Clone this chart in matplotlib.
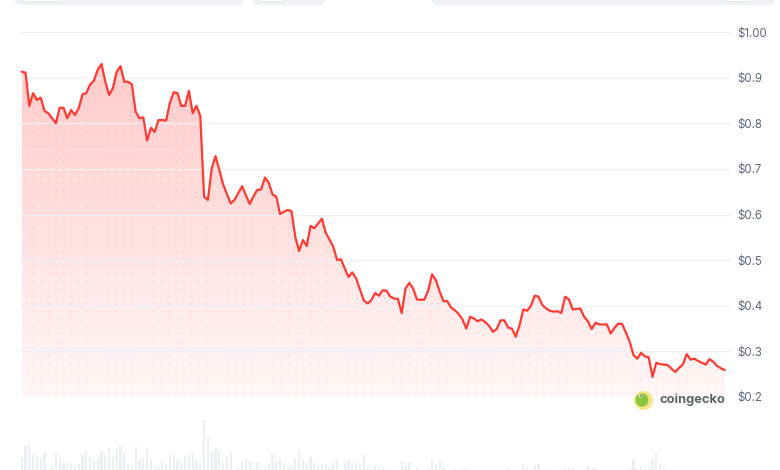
import numpy as np
import matplotlib
matplotlib.use("Agg")
import matplotlib.pyplot as plt
from matplotlib.patches import FancyBboxPatch, Circle, Ellipse, Polygon

# ---------------- data ----------------
price = [
    0.913, 0.911, 0.838, 0.866, 0.851, 0.856, 0.827, 0.822, 0.811, 0.800,
    0.834, 0.834, 0.811, 0.829, 0.818, 0.833, 0.863, 0.866, 0.885, 0.893,
    0.917, 0.930, 0.891, 0.862, 0.877, 0.913, 0.925, 0.891, 0.891, 0.885,
    0.825, 0.811, 0.813, 0.762, 0.790, 0.781, 0.807, 0.807, 0.806, 0.845,
    0.868, 0.866, 0.838, 0.838, 0.871, 0.822, 0.838, 0.816, 0.639, 0.632,
    0.701, 0.728, 0.698, 0.666, 0.645, 0.624, 0.632, 0.647, 0.662, 0.642,
    0.623, 0.640, 0.654, 0.655, 0.681, 0.670, 0.644, 0.639, 0.601, 0.606,
    0.610, 0.607, 0.551, 0.520, 0.544, 0.531, 0.575, 0.570, 0.580, 0.591,
    0.560, 0.545, 0.529, 0.500, 0.502, 0.482, 0.463, 0.473, 0.460, 0.436,
    0.412, 0.405, 0.412, 0.428, 0.422, 0.434, 0.433, 0.420, 0.416, 0.415,
    0.384, 0.438, 0.450, 0.438, 0.414, 0.413, 0.414, 0.434, 0.469, 0.456,
    0.431, 0.410, 0.410, 0.396, 0.390, 0.382, 0.370, 0.350, 0.376, 0.372,
    0.366, 0.370, 0.364, 0.356, 0.343, 0.349, 0.368, 0.368, 0.352, 0.350,
    0.332, 0.357, 0.392, 0.389, 0.400, 0.422, 0.420, 0.402, 0.394, 0.389,
    0.387, 0.388, 0.384, 0.420, 0.414, 0.392, 0.393, 0.394, 0.376, 0.366,
    0.349, 0.363, 0.359, 0.359, 0.359, 0.339, 0.352, 0.361, 0.360, 0.341,
    0.321, 0.292, 0.284, 0.297, 0.289, 0.287, 0.244, 0.275, 0.272, 0.271,
    0.270, 0.262, 0.255, 0.264, 0.271, 0.294, 0.282, 0.284, 0.279, 0.275,
    0.271, 0.283, 0.277, 0.268, 0.263, 0.259,
]

volume = [
    13, 24, 26, 16, 13, 12, 17, 1, 5, 17,
    12, 7, 7, 7, 4, 6, 15, 19, 13, 9,
    12, 19, 16, 22, 13, 22, 24, 17, 7, 4,
    23, 11, 11, 22, 11, 3, 2, 10, 6, 15,
    16, 10, 8, 14, 16, 17, 9, 7, 50, 33,
    18, 21, 20, 7, 13, 18, 0, 3, 9, 11,
    9, 2, 7, 2, 2, 7, 16, 10, 12, 7,
    2, 2, 12, 19, 10, 7, 13, 7, 4, 6,
    6, 2, 8, 11, 1, 8, 10, 9, 8, 7,
    15, 2, 2, 5, 3, 2, 1, 0, 0, 0,
    9, 3, 7, 0, 2, 0, 0, 2, 11, 6,
    9, 2, 0, 0, 1, 0, 1, 2, 0, 0,
    0, 0, 0, 0, 0, 0, 0, 0, 2, 0,
    0, 0, 5, 2, 0, 5, 6, 0, 1, 0,
    0, 0, 0, 3, 2, 2, 0, 0, 0, 5,
    2, 2, 0, 0, 0, 0, 0, 0, 0, 0,
    2, 11, 2, 4, 2, 2, 11, 16, 7, 3,
]

price_ticks = [0.2, 0.3, 0.4, 0.5, 0.6, 0.7, 0.8, 0.9, 1.0]
tick_labels = ["$0.2", "$0.3", "$0.4", "$0.5", "$0.6", "$0.7", "$0.8", "$0.9", "$1.00"]
brand = "coingecko"

# ---------------- layout ----------------
W, H = 780, 470
fig = plt.figure(figsize=(W / 100, H / 100), dpi=100)
fig.patch.set_facecolor("white")

step_px = 3.8      # pixel distance between samples
first_px = 21.7    # pixel x of first sample
left_px, right_px = 20, 730
xlim = ((left_px - first_px) / step_px, (right_px - first_px) / step_px)

n = len(price)
x = np.arange(n)

ax = fig.add_axes([left_px / W, (H - 397) / H, (right_px - left_px) / W, 365 / H])
ax.set_facecolor("none")

# fill with gradient
verts = [(x[0], 0.2)] + list(zip(x, price)) + [(x[-1], 0.2)]
poly = Polygon(verts, closed=True, facecolor="none", edgecolor="none")
ax.add_patch(poly)
rows = 256
alpha = np.linspace(0.24, 0.035, rows)
rgba = np.zeros((rows, 1, 4))
rgba[..., 0] = 1.0
rgba[..., 1] = 0.15
rgba[..., 2] = 0.15
rgba[:, 0, 3] = alpha
im = ax.imshow(rgba, extent=[x[0], x[-1], 0.2, max(price)], aspect="auto",
               origin="upper", zorder=1, interpolation="bilinear")
im.set_clip_path(poly)

# dotted texture inside the fill
dx = 7.5 / step_px
dy = 7.5 * 0.8 / 365
gx, gy = np.meshgrid(np.arange(x[0] + 1, x[-1], dx), np.arange(0.2 + dy * 0.5, 1.0, dy))
dots = ax.scatter(gx.ravel(), gy.ravel(), s=1.3, color="#ff3b30", alpha=0.10,
                  linewidths=0, zorder=2)
dots.set_clip_path(poly)

# price line
ax.plot(x, price, color="#ff3a33", lw=1.6, solid_joinstyle="round",
        solid_capstyle="round", zorder=3)

ax.set_xlim(*xlim)
ax.set_ylim(0.2, 1.0)
ax.set_yticks(price_ticks)
ax.set_yticklabels(tick_labels)
ax.yaxis.tick_right()
ax.tick_params(axis="y", length=0, pad=5, labelcolor="#5b6a80", labelsize=8.3)
for lab in ax.get_yticklabels():
    lab.set_family(["Inter", "DejaVu Sans"])
ax.set_xticks([])
ax.grid(axis="y", color="#eef0f3", lw=1.0, zorder=0)
for s in ax.spines.values():
    s.set_visible(False)

# volume bars
vax = fig.add_axes([left_px / W, 0, (right_px - left_px) / W, 50 / H])
vax.set_facecolor("none")
vax.bar(np.arange(len(volume)), volume, width=0.55, color="#eceff3", zorder=1)
vax.set_xlim(*xlim)
vax.set_ylim(0, max(volume))
vax.axis("off")

# logo + brand
def fx(px):
    return px / W

def fy(py):
    return (H - py) / H

logo_ax = fig.add_axes([0, 0, 1, 1], facecolor="none")
logo_ax.set_xlim(0, W)
logo_ax.set_ylim(H, 0)
logo_ax.axis("off")
logo_ax.add_patch(Circle((643.5, 400.5), 9.5, facecolor="#f7e58a", edgecolor="none"))
logo_ax.add_patch(Ellipse((642.0, 400.0), 13, 13.5, facecolor="#8cc63f", edgecolor="none"))
logo_ax.add_patch(Circle((640.5, 396.0), 1.6, facecolor="white", edgecolor="none"))
logo_ax.add_patch(Circle((640.7, 396.0), 0.8, facecolor="#4a4a4a", edgecolor="none"))
logo_ax.text(660, 400, brand, fontsize=9.3, fontweight="bold", color="#5f6368",
             va="center", ha="left", family=["Inter", "DejaVu Sans"])

# top UI fragments
for (x0, x1) in [(15, 243), (253, 325), (432, 775)]:
    logo_ax.add_patch(FancyBboxPatch((x0, -12), x1 - x0, 17,
                                     boxstyle="round,pad=0,rounding_size=6",
                                     facecolor="#eff2f5", edgecolor="none"))
for (x0, x1) in [(20, 63), (258, 285), (725, 750)]:
    logo_ax.add_patch(FancyBboxPatch((x0, -12), x1 - x0, 13.5,
                                     boxstyle="round,pad=0,rounding_size=4",
                                     facecolor="white", edgecolor="#e4e8ee", lw=0.6))

fig.savefig("out.png", dpi=100, facecolor="white")
